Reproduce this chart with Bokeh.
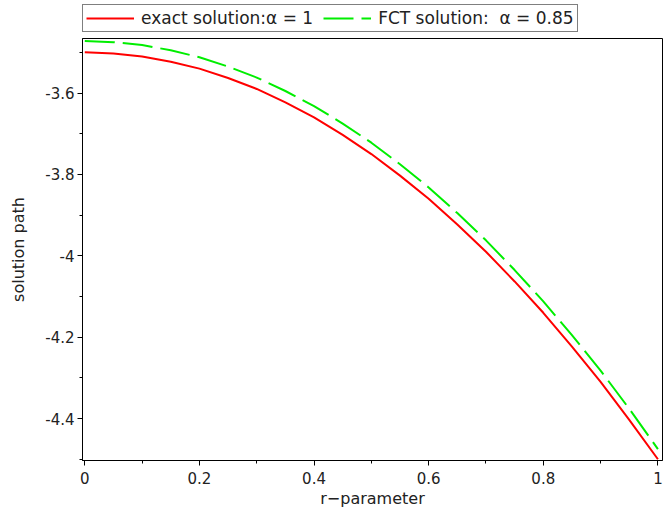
from bokeh.plotting import figure
from bokeh.models import Legend, LegendItem, FixedTicker, Range1d
from bokeh.layouts import column
from bokeh.embed import file_html
from bokeh.resources import INLINE

r = [0.0, 0.05, 0.1, 0.15, 0.2, 0.25, 0.3, 0.35, 0.4, 0.45, 0.5,
     0.55, 0.6, 0.65, 0.7, 0.75, 0.8, 0.85, 0.9, 0.95, 1.0]
exact = [-3.500, -3.503, -3.510, -3.523, -3.540, -3.563, -3.590, -3.623, -3.660, -3.703, -3.750,
         -3.803, -3.860, -3.923, -3.990, -4.063, -4.140, -4.223, -4.310, -4.403, -4.500]
fct = [-3.472, -3.475, -3.482, -3.495, -3.512, -3.535, -3.562, -3.595, -3.632, -3.675, -3.722,
       -3.775, -3.832, -3.895, -3.962, -4.035, -4.112, -4.195, -4.282, -4.376, -4.475]
series_labels = ["exact solution:α = 1", "FCT solution:\u00a0 α = 0.85"]

x_ticks = [0, 0.2, 0.4, 0.6, 0.8, 1.0]
x_labels = ["0", "0.2", "0.4", "0.6", "0.8", "1"]
y_ticks = [-4.4, -4.2, -4.0, -3.8, -3.6]
y_labels = ["-4.4", "-4.2", "-4", "-3.8", "-3.6"]

FONT = "DejaVu Sans"
RED = "#ff0000"
GREEN = "#00ee00"
DASH = "30 8"

p = figure(width=666, height=476, output_backend="svg", toolbar_location=None,
           x_range=Range1d(-0.004, 1.008), y_range=Range1d(-4.503, -3.466),
           min_border_left=82, min_border_right=4, min_border_top=4, min_border_bottom=47)

p.xgrid.visible = False
p.ygrid.visible = False
p.outline_line_color = "black"
p.outline_line_width = 1
p.background_fill_color = "white"

p.line(r, exact, line_color=RED, line_width=2)
p.line(r, fct, line_color=GREEN, line_width=2, line_dash=DASH)

for ax in (p.xaxis[0], p.yaxis[0]):
    ax.axis_line_color = "black"
    ax.major_tick_line_color = "black"
    ax.minor_tick_line_color = "black"
    ax.major_tick_out = 5
    ax.major_tick_in = 0
    ax.minor_tick_out = 3
    ax.minor_tick_in = 0
    ax.major_label_text_font = FONT
    ax.major_label_text_font_size = "15px"
    ax.major_label_text_color = "#222222"
    ax.axis_label_text_font = FONT
    ax.axis_label_text_font_size = "16px"
    ax.axis_label_text_font_style = "normal"
    ax.axis_label_text_color = "#222222"

p.xaxis.ticker = FixedTicker(ticks=x_ticks, minor_ticks=[0.1, 0.3, 0.5, 0.7, 0.9])
p.xaxis.major_label_overrides = {t: l for t, l in zip(x_ticks, x_labels)}
p.yaxis.ticker = FixedTicker(ticks=y_ticks, minor_ticks=[-4.5, -4.3, -4.1, -3.9, -3.7, -3.5])
p.yaxis.major_label_overrides = {t: l for t, l in zip(y_ticks, y_labels)}
p.xaxis.axis_label = "r\u2212parameter"
p.yaxis.axis_label = "solution path"
p.xaxis.major_label_standoff = 6
p.xaxis.axis_label_standoff = 2
p.yaxis.major_label_standoff = 3
p.yaxis.axis_label_standoff = 14

# legend strip above the plot
lf = figure(width=666, height=34, output_backend="svg", toolbar_location=None,
            x_range=Range1d(0, 1), y_range=Range1d(0, 1),
            min_border=0, outline_line_color=None)
lf.axis.visible = False
lf.grid.visible = False
g1 = lf.line([5, 6], [5, 6], line_color=RED, line_width=2)
g2 = lf.line([5, 6], [5, 6], line_color=GREEN, line_width=2, line_dash=DASH)

legend = Legend(items=[LegendItem(label=series_labels[0], renderers=[g1]),
                       LegendItem(label=series_labels[1], renderers=[g2])],
                orientation="horizontal", location=(0, 2))
legend.label_text_font = FONT
legend.label_text_font_size = "17px"
legend.label_text_color = "#222222"
legend.border_line_color = "black"
legend.border_line_width = 1
legend.padding = 3
legend.margin = 0
legend.spacing = 10
legend.glyph_width = 48
legend.glyph_height = 20
legend.label_standoff = 7
legend.label_height = 20
legend.background_fill_alpha = 1
lf.add_layout(legend, "center")

layout = column(lf, p, spacing=0)
open("out.html", "w").write(file_html(layout, INLINE))
